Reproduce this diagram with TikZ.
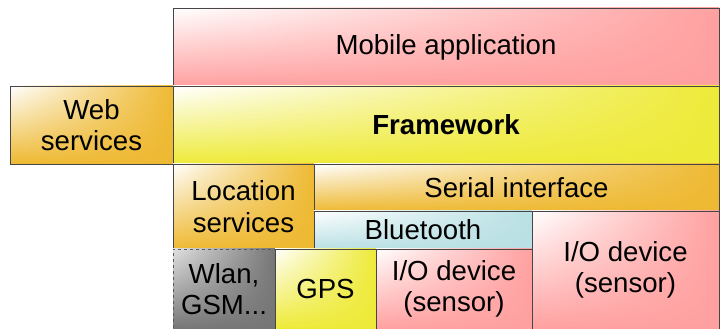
\documentclass[tikz,border=0pt]{standalone}
\usepackage{fontspec}
\setmainfont{Liberation Sans}
\usepackage{tikz}
\usepackage{xcolor}
\usetikzlibrary{shadings}
\definecolor{cPink}{RGB}{255,160,160}
\definecolor{cYellow}{RGB}{238,234,56}
\definecolor{cOrange}{RGB}{238,185,50}
\definecolor{cCyan}{RGB}{185,224,228}
\definecolor{cGray}{RGB}{118,118,118}
\definecolor{cEdge}{RGB}{70,70,70}
\tikzset{
	layer/.style={rectangle, draw=cEdge, line width=0.9pt, inner sep=0pt, align=center, text centered,
		font=\fontsize{27.6}{31.5}\selectfont, upper left=white, upper right=#1, lower left=#1, lower right=#1},
	radio/.style={layer=cGray, upper left=black!12, dashed, draw=black!65},
}

\begin{document}
\begin{tikzpicture}[x=1pt, y=1pt]
	\useasboundingbox (0,0) rectangle (720,329);
	% top: application and framework
	\node[layer=cPink, minimum width=546pt, minimum height=78pt] (app) at (446,282) {Mobile application};
	\node[layer=cOrange, minimum width=163pt, minimum height=78pt] (web) at (91.5,204) {Web\\services};
	\node[layer=cYellow, minimum width=546pt, minimum height=78pt] (frame) at (446,204) {\textbf{Framework}};
	% middle
	\node[layer=cOrange, minimum width=141pt, minimum height=85pt] (loc) at (243.5,122.5) {Location\\services};
	\node[layer=cOrange, minimum width=405pt, minimum height=47pt] (serial) at (516.5,141.5) {Serial interface};
	\node[layer=cCyan, minimum width=218pt, minimum height=38pt] (bt) at (423,99) {Bluetooth};
	% bottom: devices
	\node[layer=cPink, minimum width=187pt, minimum height=118pt] (ioB) at (625.5,59) {I/O device\\(sensor)};
	\node[radio, minimum width=102pt, minimum height=80pt] (wlan) at (224,40) {Wlan,\\GSM...};
	\node[layer=cYellow, minimum width=101pt, minimum height=80pt] (gps) at (325.5,40) {GPS};
	\node[layer=cPink, minimum width=156pt, minimum height=80pt] (ioA) at (454,40) {I/O device\\(sensor)};
\end{tikzpicture}
\end{document}
